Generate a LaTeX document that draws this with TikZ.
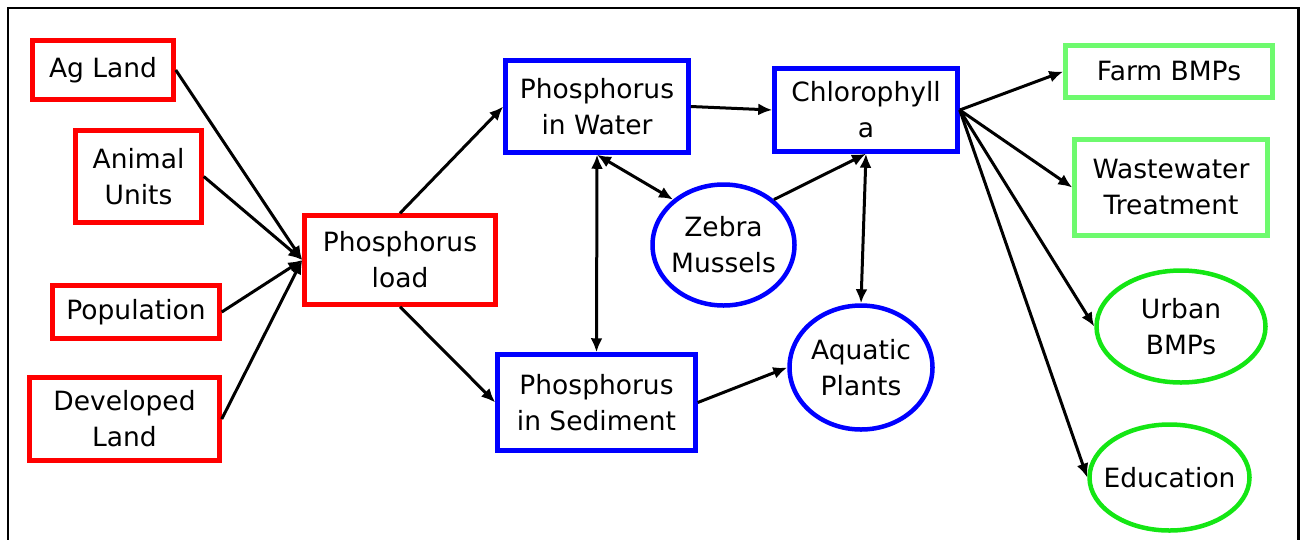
\documentclass[tikz,border=0pt]{standalone}
\usepackage{fontspec}
\setmainfont{DejaVu Sans}
\usetikzlibrary{shapes.geometric,arrows.meta}
\definecolor{pred}{RGB}{255,0,0}
\definecolor{pblue}{RGB}{0,0,255}
\definecolor{plgreen}{RGB}{110,250,110}
\definecolor{pgreen}{RGB}{20,230,20}
\begin{document}
\begin{tikzpicture}[x=1pt,y=-1pt,
  every node/.style={font=\fontsize{26.5}{36}\selectfont, align=center, inner sep=0pt},
  redbox/.style={draw=pred, line width=4.5pt, rectangle},
  bluebox/.style={draw=pblue, line width=4.5pt, rectangle},
  greenbox/.style={draw=plgreen, line width=4.5pt, rectangle},
  blueell/.style={draw=pblue, line width=4.5pt, ellipse},
  greenell/.style={draw=pgreen, line width=4.5pt, ellipse},
  conn/.style={line width=3pt, -{Latex[length=14pt,width=12pt]}},
  biconn/.style={line width=3pt, {Latex[length=14pt,width=12pt]}-{Latex[length=14pt,width=12pt]}},
]
\useasboundingbox (0,0) rectangle (1305,539);
\draw[line width=2.7pt] (8,8) rectangle (1298.5,620);

% left inputs
\node[redbox, minimum width=141pt, minimum height=59pt] (ag) at (103,70) {Ag Land};
\node[redbox, minimum width=126pt, minimum height=92pt] (animal) at (138.5,176.5) {Animal\\Units};
\node[redbox, minimum width=167pt, minimum height=53pt] (pop) at (136,312) {Population};
\node[redbox, minimum width=190pt, minimum height=83pt] (dev) at (124.5,419) {Developed\\Land};
\node[redbox, minimum width=191pt, minimum height=89pt] (load) at (400,260) {Phosphorus\\load};

% middle
\node[bluebox, minimum width=183pt, minimum height=92pt] (water) at (597,106.5) {Phosphorus\\in Water};
\node[bluebox, minimum width=183pt, minimum height=83pt] (chl) at (866,110) {Chlorophyll\\a};
\node[bluebox, minimum width=198pt, minimum height=96pt] (sed) at (596.5,402.5) {Phosphorus\\in Sediment};
\node[blueell, minimum width=142pt, minimum height=121pt, label={center:Zebra\\Mussels}] (zebra) at (723.5,245) {};
\node[blueell, minimum width=143pt, minimum height=124pt, label={center:Aquatic\\Plants}] (plants) at (861,367.5) {};

% right outputs
\node[greenbox, minimum width=207pt, minimum height=52pt] (farm) at (1169,71.5) {Farm BMPs};
\node[greenbox, minimum width=193pt, minimum height=96pt] (waste) at (1171,187.5) {Wastewater\\Treatment};
\node[greenell, minimum width=169pt, minimum height=112pt, label={center:Urban\\BMPs}] (urban) at (1181,326.5) {};
\node[greenell, minimum width=160pt, minimum height=106pt, label={center:Education}] (edu) at (1169.5,477.5) {};

% connectors
\draw[conn] (ag.east) -- (load.west);
\draw[conn] (animal.east) -- (load.west);
\draw[conn] (pop.east) -- (load.west);
\draw[conn] (dev.east) -- (load.west);
\draw[conn] (load.north) -- (water.west);
\draw[conn] (load.south) -- (sed.west);
\draw[conn] (water.east) -- (chl.west);
\draw[biconn] (water.south) -- (sed.north);
\draw[biconn] (water.south) -- (zebra.138);
\draw[conn] (zebra.42) -- (chl.south);
\draw[biconn] (chl.south) -- (plants.north);
\draw[conn] (sed.east) -- (plants.west);
\draw[conn] (chl.east) -- (farm.west);
\draw[conn] (chl.east) -- (waste.west);
\draw[conn] (chl.east) -- (urban.west);
\draw[conn] (chl.east) -- (edu.west);
\end{tikzpicture}
\end{document}
